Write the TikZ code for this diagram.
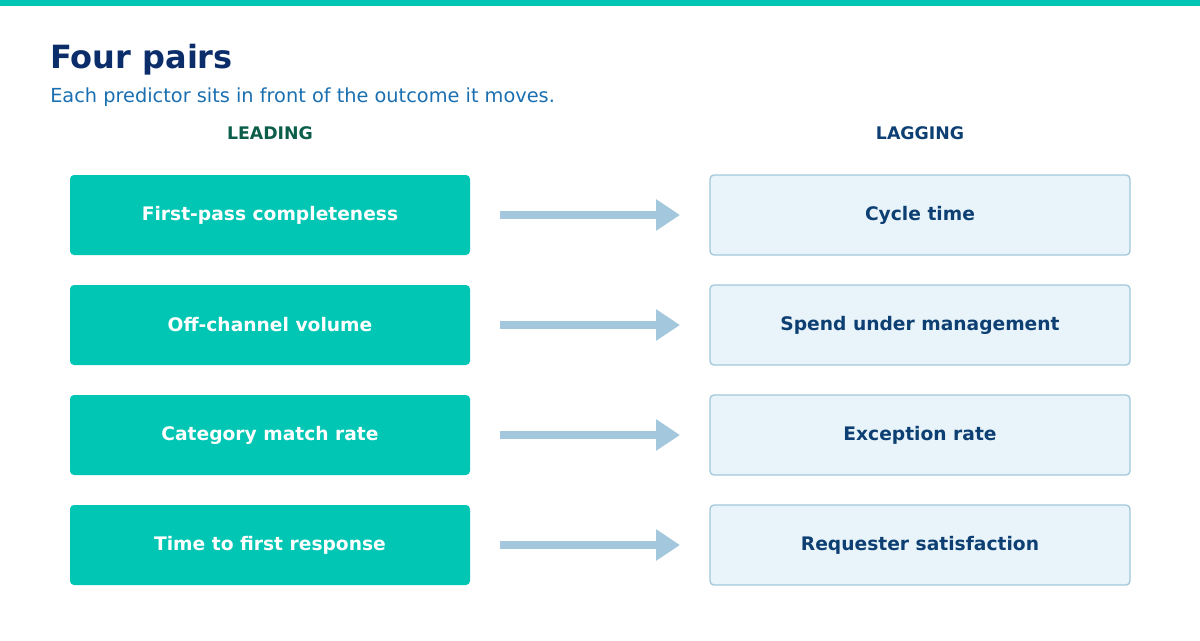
\documentclass[tikz,border=0pt]{standalone}
\usepackage{fontspec}
\setmainfont{DejaVu Sans}
\usetikzlibrary{arrows.meta}
\definecolor{teal}{HTML}{00C6B3}
\definecolor{navy}{HTML}{0B2E6B}
\definecolor{sub}{HTML}{1A6FB0}
\definecolor{lead}{HTML}{0B5E4A}
\definecolor{lagc}{HTML}{0D3F73}
\definecolor{lfill}{HTML}{E8F4FA}
\definecolor{lline}{HTML}{A3C7DD}
\tikzset{
 lbox/.style={fill=teal,rounded corners=3pt,minimum width=300pt,minimum height=60pt,inner sep=0pt,text=white,font=\fontsize{14}{16}\selectfont\bfseries},
 rbox/.style={fill=lfill,draw=lline,line width=1pt,rounded corners=3pt,minimum width=315pt,minimum height=60pt,inner sep=0pt,text=lagc,font=\fontsize{14}{16}\selectfont\bfseries},
 conn/.style={draw=lline,line width=6pt,-{Triangle[length=18pt,width=22.5pt]}},
 head/.style={font=\fontsize{13}{15}\selectfont\bfseries}
}
\begin{document}
\begin{tikzpicture}[x=0.75pt,y=-0.75pt]
\useasboundingbox (0,0) rectangle (1200,640);
\fill[teal] (0,0) rectangle (1200,6);
\node[anchor=base west,inner sep=0pt,text=navy,font=\fontsize{24}{28}\selectfont\bfseries] (title) at (50,68) {Four pairs};
\node[anchor=base west,inner sep=0pt,text=sub,font=\fontsize{14.5}{17}\selectfont] (subt) at (50,102) {Each predictor sits in front of the outcome it moves.};
\node[head,text=lead] (hl) at (270,133) {LEADING};
\node[head,text=lagc] (hr) at (920,133) {LAGGING};
\foreach \i/\a/\b in {0/First-pass completeness/Cycle time,1/Off-channel volume/Spend under management,2/Category match rate/Exception rate,3/Time to first response/Requester satisfaction}{
 \node[lbox] (l\i) at (270,215+110*\i) {\a};
 \node[rbox] (r\i) at (920,215+110*\i) {\b};
 \coordinate (s\i) at (500,215+110*\i);
 \coordinate (e\i) at (680,215+110*\i);
 \draw[conn] (s\i) -- (e\i);
}
\end{tikzpicture}
\end{document}
